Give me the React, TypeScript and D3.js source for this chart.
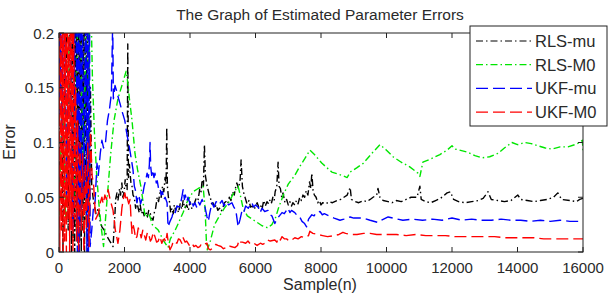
import React from "react";
import * as d3 from "d3";

const xTicks = [0, 2000, 4000, 6000, 8000, 10000, 12000, 14000, 16000];
const yTicks = [0, 0.05, 0.1, 0.15, 0.2];
const yTickLabels = ["0", "0.05", "0.1", "0.15", "0.2"];
const seriesNames = ["RLS-mu", "RLS-M0", "UKF-mu", "UKF-M0"];

const rlsMu: [number, number][] = [
  [0,0.05],[60,0.3],[120,0.0],[200,0.3],[280,0.02],[340,0.3],[380,0.0],[405,0.3],[430,0.01],[455,0.32],[480,0.0],[505,0.3],[530,0.02],[555,0.33],[580,0.0],[605,0.3],[630,0.01],[655,0.32],[680,0.0],[705,0.3],[730,0.02],[755,0.3],[780,0.0],[805,0.3],[830,0.03],[855,0.28],[880,0.0],[905,0.25],[930,0.03],[960,0.15],[1000,0.06],[1060,0.045],[1130,0.035],[1200,0.04],[1260,0.028],[1310,0.023],[1380,0.02],[1470,0.014],[1550,0.01],[1650,0.005],
  [1700,0.03],[1730,0.048],[1770,0.054],[1800,0.047],[1850,0.058],[1880,0.052],[1920,0.063],[1950,0.05],[1990,0.055],[2020,0.066],[2040,0.06],[2080,0.057],[2100,0.19],[2120,0.068],[2150,0.08],[2170,0.072],[2200,0.062],[2230,0.06],[2260,0.052],[2300,0.05],[2340,0.04],[2380,0.046],[2410,0.041],[2450,0.036],[2480,0.043],[2520,0.035],[2560,0.038],[2600,0.033],[2650,0.037],[2700,0.032],[2740,0.038],[2780,0.036],[2830,0.031],[2870,0.029],[2910,0.036],[2950,0.04],[3000,0.05],[3040,0.046],[3080,0.054],[3120,0.05],[3160,0.06],[3200,0.055],[3240,0.068],[3270,0.062],[3290,0.114],[3310,0.06],[3340,0.05],[3380,0.045],[3410,0.036],[3450,0.04],[3490,0.035],[3520,0.043],[3560,0.038],[3600,0.041],[3650,0.036],[3700,0.044],[3750,0.039],[3790,0.047],[3840,0.04],[3900,0.043],[3950,0.038],[4000,0.046],[4050,0.04],[4090,0.041],[4140,0.045],[4200,0.05],[4250,0.048],[4300,0.058],[4340,0.055],[4370,0.066],[4410,0.06],[4440,0.098],[4470,0.07],[4510,0.062],[4550,0.057],[4590,0.052],[4620,0.05],[4660,0.044],[4700,0.045],[4750,0.04],[4800,0.043],[4850,0.038],[4900,0.04],[4950,0.037],[5010,0.041],[5050,0.045],[5100,0.046],[5150,0.044],[5200,0.05],[5250,0.047],[5300,0.055],[5350,0.052],[5400,0.06],[5430,0.063],[5480,0.058],[5530,0.066],[5560,0.084],[5600,0.06],[5640,0.054],[5680,0.05],[5740,0.044],[5800,0.047],[5850,0.041],[5900,0.042],[5960,0.039],[6050,0.045],[6100,0.041],[6150,0.043],[6200,0.039],[6250,0.047],[6300,0.042],[6350,0.046],[6400,0.044],[6450,0.048],[6490,0.045],[6530,0.05],[6570,0.047],[6600,0.055],[6650,0.06],[6690,0.082],[6720,0.06],[6760,0.058],[6800,0.05],[6840,0.054],[6900,0.045],[6950,0.048],[7000,0.043],[7050,0.046],[7100,0.042],[7140,0.045],[7200,0.043],[7250,0.047],[7300,0.044],[7350,0.05],[7400,0.047],[7450,0.052],[7500,0.05],[7550,0.056],[7600,0.052],[7650,0.064],[7690,0.058],[7720,0.072],[7760,0.055],[7800,0.052],[7850,0.05],[7900,0.045],[7950,0.047],[8000,0.043],
  [8050,0.045],[8150,0.044],[8250,0.046],[8350,0.045],[8490,0.047],[8600,0.048],[8700,0.05],[8800,0.052],[8890,0.059],[8930,0.048],[9050,0.046],[9150,0.045],[9290,0.047],[9400,0.046],[9500,0.048],[9590,0.05],[9700,0.052],[9740,0.058],[9800,0.05],[9900,0.047],[10050,0.046],[10170,0.045],[10300,0.047],[10450,0.046],[10600,0.048],[10750,0.05],[10930,0.05],[11020,0.06],[11060,0.048],[11200,0.046],[11350,0.045],[11500,0.047],[11650,0.049],[11850,0.054],[11950,0.055],[12050,0.048],[12200,0.046],[12400,0.045],[12600,0.046],[12800,0.047],[12950,0.049],[13100,0.055],[13200,0.048],[13400,0.047],[13600,0.046],[13800,0.047],[14010,0.052],[14100,0.048],[14300,0.047],[14500,0.046],[14700,0.047],[14900,0.048],[15100,0.05],[15230,0.054],[15350,0.048],[15600,0.047],[15800,0.046],[15900,0.048],[16000,0.049]
];

const rlsM0: [number, number][] = [
  [0,0.02],[100,0.15],[200,0.03],[300,0.22],[450,0.05],[600,0.25],[750,0.08],[880,0.3],[910,0.02],[940,0.3],[980,0.22],[1020,0.16],[1080,0.11],[1150,0.07],[1230,0.04],[1300,0.02],[1360,0.005],[1420,0.03],[1500,0.06],[1580,0.09],[1680,0.12],[1800,0.14],[1950,0.155],[2050,0.165],[2100,0.155],[2150,0.14],[2230,0.12],[2320,0.09],[2400,0.075],[2500,0.06],[2630,0.032],[2750,0.035],[2850,0.025],[3030,0.02],[3200,0.01],[3330,0.004],[3400,0.012],[3550,0.02],[3700,0.03],[3790,0.036],[3900,0.045],[4090,0.055],[4250,0.058],[4400,0.06],[4460,0.04],[4500,0.01],[4530,0.002],[4620,0.01],[4750,0.025],[4900,0.033],[5050,0.04],[5220,0.047],[5350,0.055],[5470,0.06],[5550,0.05],[5620,0.04],[5750,0.033],[5900,0.03],[6050,0.027],[6200,0.024],[6380,0.022],[6500,0.025],[6620,0.032],[6700,0.04],[6850,0.052],[7000,0.062],[7200,0.07],[7350,0.078],[7500,0.085],[7660,0.093],[7800,0.089],[8030,0.081],[8330,0.073],[8640,0.07],[8800,0.068],[8890,0.073],[9100,0.077],[9290,0.081],[9550,0.09],[9800,0.098],[10000,0.093],[10200,0.087],[10450,0.082],[10700,0.078],[10960,0.072],[11020,0.069],[11110,0.082],[11350,0.085],[11630,0.089],[11850,0.093],[12000,0.097],[12100,0.094],[12490,0.091],[12700,0.088],[12910,0.086],[13150,0.087],[13400,0.09],[13600,0.095],[13830,0.1],[14000,0.098],[14230,0.1],[14420,0.099],[14620,0.097],[14850,0.095],[15050,0.094],[15300,0.096],[15540,0.096],[15750,0.098],[15900,0.1],[15980,0.102],[16000,0.093]
];

const ukfMu: [number, number][] = [
  [0,0.12],[15,0.25],[35,0.14],[55,0.22],[90,0.1],[150,0.3],[230,0.05],[330,0.25],[420,0.02],[520,0.3],[560,0.0],[590,0.28],[620,0.0],[650,0.3],[680,0.02],[710,0.25],[760,0.05],[820,0.25],[850,0.0],[875,0.3],[900,0.0],[925,0.3],[950,0.005],[1000,0.02],[1050,0.04],[1100,0.045],[1160,0.081],[1200,0.07],[1260,0.09],[1310,0.102],[1360,0.095],[1420,0.1],[1480,0.12],[1540,0.13],[1600,0.145],[1640,0.21],[1660,0.14],[1710,0.152],[1760,0.147],[1820,0.14],[1860,0.136],[1930,0.128],[2010,0.12],[2060,0.11],[2110,0.102],[2180,0.09],[2260,0.075],[2300,0.06],[2330,0.057],[2380,0.045],[2420,0.052],[2450,0.05],[2490,0.044],[2530,0.048],[2570,0.055],[2600,0.06],[2650,0.066],[2690,0.072],[2730,0.068],[2760,0.08],[2780,0.1],[2800,0.078],[2830,0.07],[2860,0.075],[2900,0.068],[2930,0.072],[2970,0.063],[3000,0.065],[3040,0.058],[3080,0.059],[3120,0.052],[3160,0.055],[3200,0.048],[3240,0.05],[3300,0.045],[3330,0.023],[3390,0.028],[3450,0.032],[3500,0.038],[3550,0.036],[3600,0.042],[3690,0.041],[3750,0.05],[3790,0.057],[3830,0.048],[3860,0.052],[3900,0.046],[3940,0.05],[4000,0.044],[4050,0.047],[4100,0.042],[4150,0.045],[4200,0.041],[4250,0.046],[4300,0.043],[4370,0.048],[4450,0.042],[4520,0.032],[4560,0.028],[4600,0.035],[4670,0.045],[4730,0.041],[4800,0.046],[4880,0.043],[4980,0.047],[5040,0.042],[5100,0.046],[5180,0.043],[5280,0.045],[5340,0.041],[5400,0.038],[5470,0.023],[5530,0.03],[5590,0.038],[5640,0.036],[5700,0.042],[5780,0.04],[5890,0.045],[5940,0.041],[6000,0.043],[6080,0.041],[6140,0.036],[6200,0.04],[6280,0.037],[6380,0.038],[6440,0.034],[6500,0.033],[6590,0.026],[6650,0.03],[6730,0.033],[6810,0.036],[6880,0.035],[6990,0.04],[7050,0.036],[7100,0.038],[7200,0.036],[7280,0.033],[7350,0.032],[7420,0.028],[7500,0.026],[7560,0.023],[7620,0.03],[7720,0.034],[7790,0.033],[7850,0.036],[7970,0.037],[8040,0.034],[8100,0.035],[8250,0.033],[8400,0.031],[8580,0.029],[8700,0.03],[8890,0.032],[9000,0.031],[9290,0.031],[9500,0.029],[9740,0.027],[9850,0.029],[10050,0.032],[10200,0.031],[10500,0.029],[10800,0.03],[11100,0.029],[11400,0.03],[11700,0.029],[12000,0.031],[12300,0.029],[12600,0.03],[12900,0.029],[13200,0.029],[13500,0.03],[13800,0.029],[14100,0.029],[14400,0.028],[14700,0.029],[15000,0.028],[15300,0.029],[15600,0.028],[15800,0.028],[16000,0.028]
];

const ukfM0: [number, number][] = [
  [0,0.25],[25,0.0],[50,0.3],[75,0.02],[100,0.28],[125,0.0],[150,0.3],[175,0.01],[200,0.27],[225,0.0],[250,0.3],[275,0.03],[300,0.26],[325,0.0],[350,0.3],[375,0.02],[400,0.25],[425,0.0],[450,0.22],[480,0.03],[510,0.15],[540,0.01],[570,0.12],[600,0.0],[640,0.1],[680,0.02],[720,0.09],[760,0.0],[800,0.08],[840,0.02],[880,0.1],[920,0.005],[960,0.11],[1010,0.07],[1060,0.06],[1120,0.03],[1200,0.035],[1260,0.045],[1310,0.05],[1350,0.044],[1400,0.052],[1450,0.048],[1500,0.057],[1560,0.048],[1650,0.038],[1720,0.02],[1800,0.008],[1860,0.02],[1920,0.04],[1960,0.048],[2010,0.054],[2050,0.047],[2080,0.05],[2130,0.044],[2170,0.048],[2200,0.03],[2230,0.017],[2270,0.024],[2300,0.02],[2340,0.012],[2380,0.014],[2420,0.022],[2470,0.018],[2510,0.013],[2560,0.02],[2600,0.016],[2650,0.011],[2700,0.018],[2750,0.015],[2790,0.01],[2830,0.012],[2880,0.018],[2930,0.014],[2980,0.009],[3030,0.01],[3080,0.014],[3140,0.008],[3180,0.011],[3220,0.012],[3260,0.009],[3300,0.017],[3340,0.008],[3390,0.002],[3450,0.006],[3490,0.01],[3530,0.009],[3600,0.008],[3650,0.012],[3700,0.011],[3750,0.008],[3790,0.013],[3850,0.009],[3900,0.01],[3980,0.006],[4060,0.008],[4120,0.005],[4180,0.006],[4240,0.004],[4300,0.005],[4360,0.008],[4420,0.007],[4520,0.008],[4560,0.003],[4620,0.002],[4720,0.004],[4790,0.007],[4850,0.006],[4950,0.005],[5020,0.003],[5100,0.004],[5180,0.006],[5250,0.005],[5370,0.004],[5450,0.006],[5500,0.011],[5550,0.009],[5600,0.009],[5700,0.008],[5770,0.01],[5850,0.007],[5950,0.008],[6050,0.006],[6150,0.008],[6220,0.007],[6290,0.008],[6370,0.011],[6450,0.01],[6590,0.011],[6650,0.009],[6700,0.013],[6760,0.011],[6810,0.014],[6880,0.012],[6950,0.012],[7030,0.01],[7110,0.011],[7200,0.013],[7300,0.012],[7400,0.014],[7510,0.013],[7620,0.015],[7660,0.019],[7750,0.017],[7900,0.016],[8050,0.015],[8200,0.014],[8400,0.015],[8550,0.016],[8670,0.018],[8750,0.017],[8900,0.016],[9100,0.016],[9300,0.017],[9500,0.017],[9700,0.016],[10000,0.016],[10300,0.016],[10600,0.015],[10900,0.016],[11200,0.015],[11500,0.015],[11800,0.015],[12100,0.014],[12400,0.014],[12700,0.014],[13000,0.014],[13300,0.014],[13600,0.013],[13900,0.013],[14200,0.013],[14500,0.013],[14800,0.012],[15100,0.012],[15400,0.012],[15700,0.012],[16000,0.012]
];

const W = 608, H = 300;
const M = { left: 59, right: 583, top: 33, bottom: 252 };
const FONT = "'Liberation Sans', Arial, sans-serif";
const TXT = "#2a2a2a";

export default function App() {
  const x = d3.scaleLinear().domain([0, 16000]).range([M.left, M.right]);
  const y = d3.scaleLinear().domain([0, 0.2]).range([M.bottom, M.top]);
  const line = d3.line<[number, number]>().x(d => x(d[0])).y(d => y(d[1]));

  const series = [
    { name: seriesNames[0], data: rlsMu, color: "#000000", dash: "7,3,1.5,3" },
    { name: seriesNames[1], data: rlsM0, color: "#00e600", dash: "7,3,1.5,3" },
    { name: seriesNames[2], data: ukfMu, color: "#0000ff", dash: "12,5" },
    { name: seriesNames[3], data: ukfM0, color: "#ff0000", dash: "12,5" },
  ];

  const tickLen = 5;
  const legend = { x: 470, y: 26, w: 137, h: 100 };

  return (
    <svg width={W} height={H} style={{ position: "fixed", left: 0, top: 0, background: "#fff" }}
      fontFamily={FONT}>
      <defs>
        <clipPath id="plotclip">
          <rect x={M.left} y={M.top} width={M.right - M.left} height={M.bottom - M.top} />
        </clipPath>
      </defs>
      <rect x={0} y={0} width={W} height={H} fill="#fff" />
      <text x={320} y={20} textAnchor="middle" fontSize={15.5} fill={TXT}>The Graph of Estimated Parameter Errors</text>

      <g clipPath="url(#plotclip)">
        {series.map(s => (
          <path key={s.name} d={line(s.data) || ""} fill="none" stroke={s.color}
            strokeWidth={1.4} strokeDasharray={s.dash} strokeLinejoin="round" />
        ))}
      </g>

      <rect x={M.left} y={M.top} width={M.right - M.left} height={M.bottom - M.top}
        fill="none" stroke="#222" strokeWidth={1} />

      {xTicks.map(t => (
        <g key={"x" + t}>
          <line x1={x(t)} x2={x(t)} y1={M.bottom} y2={M.bottom - tickLen} stroke="#222" />
          <line x1={x(t)} x2={x(t)} y1={M.top} y2={M.top + tickLen} stroke="#222" />
          <text x={x(t)} y={273} textAnchor="middle" fontSize={15} fill={TXT}>{t}</text>
        </g>
      ))}
      {yTicks.map((t, i) => (
        <g key={"y" + t}>
          <line x1={M.left} x2={M.left + tickLen} y1={y(t)} y2={y(t)} stroke="#222" />
          <line x1={M.right} x2={M.right - tickLen} y1={y(t)} y2={y(t)} stroke="#222" />
          <text x={54} y={y(t) + 5.5} textAnchor="end" fontSize={15} fill={TXT}>{yTickLabels[i]}</text>
        </g>
      ))}

      <text x={320} y={290} textAnchor="middle" fontSize={16} fill={TXT}>Sample(n)</text>
      <text transform={`translate(15, ${142}) rotate(-90)`} textAnchor="middle" fontSize={16} fill={TXT}>Error</text>

      <rect x={legend.x} y={legend.y} width={legend.w} height={legend.h} fill="#fff" stroke="#222" strokeWidth={1} />
      {series.map((s, i) => {
        const ly = 41 + i * 23.7;
        return (
          <g key={"lg" + s.name}>
            <line x1={476} x2={532} y1={ly} y2={ly} stroke={s.color} strokeWidth={1.2} strokeDasharray={s.dash} />
            <text x={535} y={ly + 6} fontSize={16.5} fill={TXT}>{s.name}</text>
          </g>
        );
      })}
    </svg>
  );
}
